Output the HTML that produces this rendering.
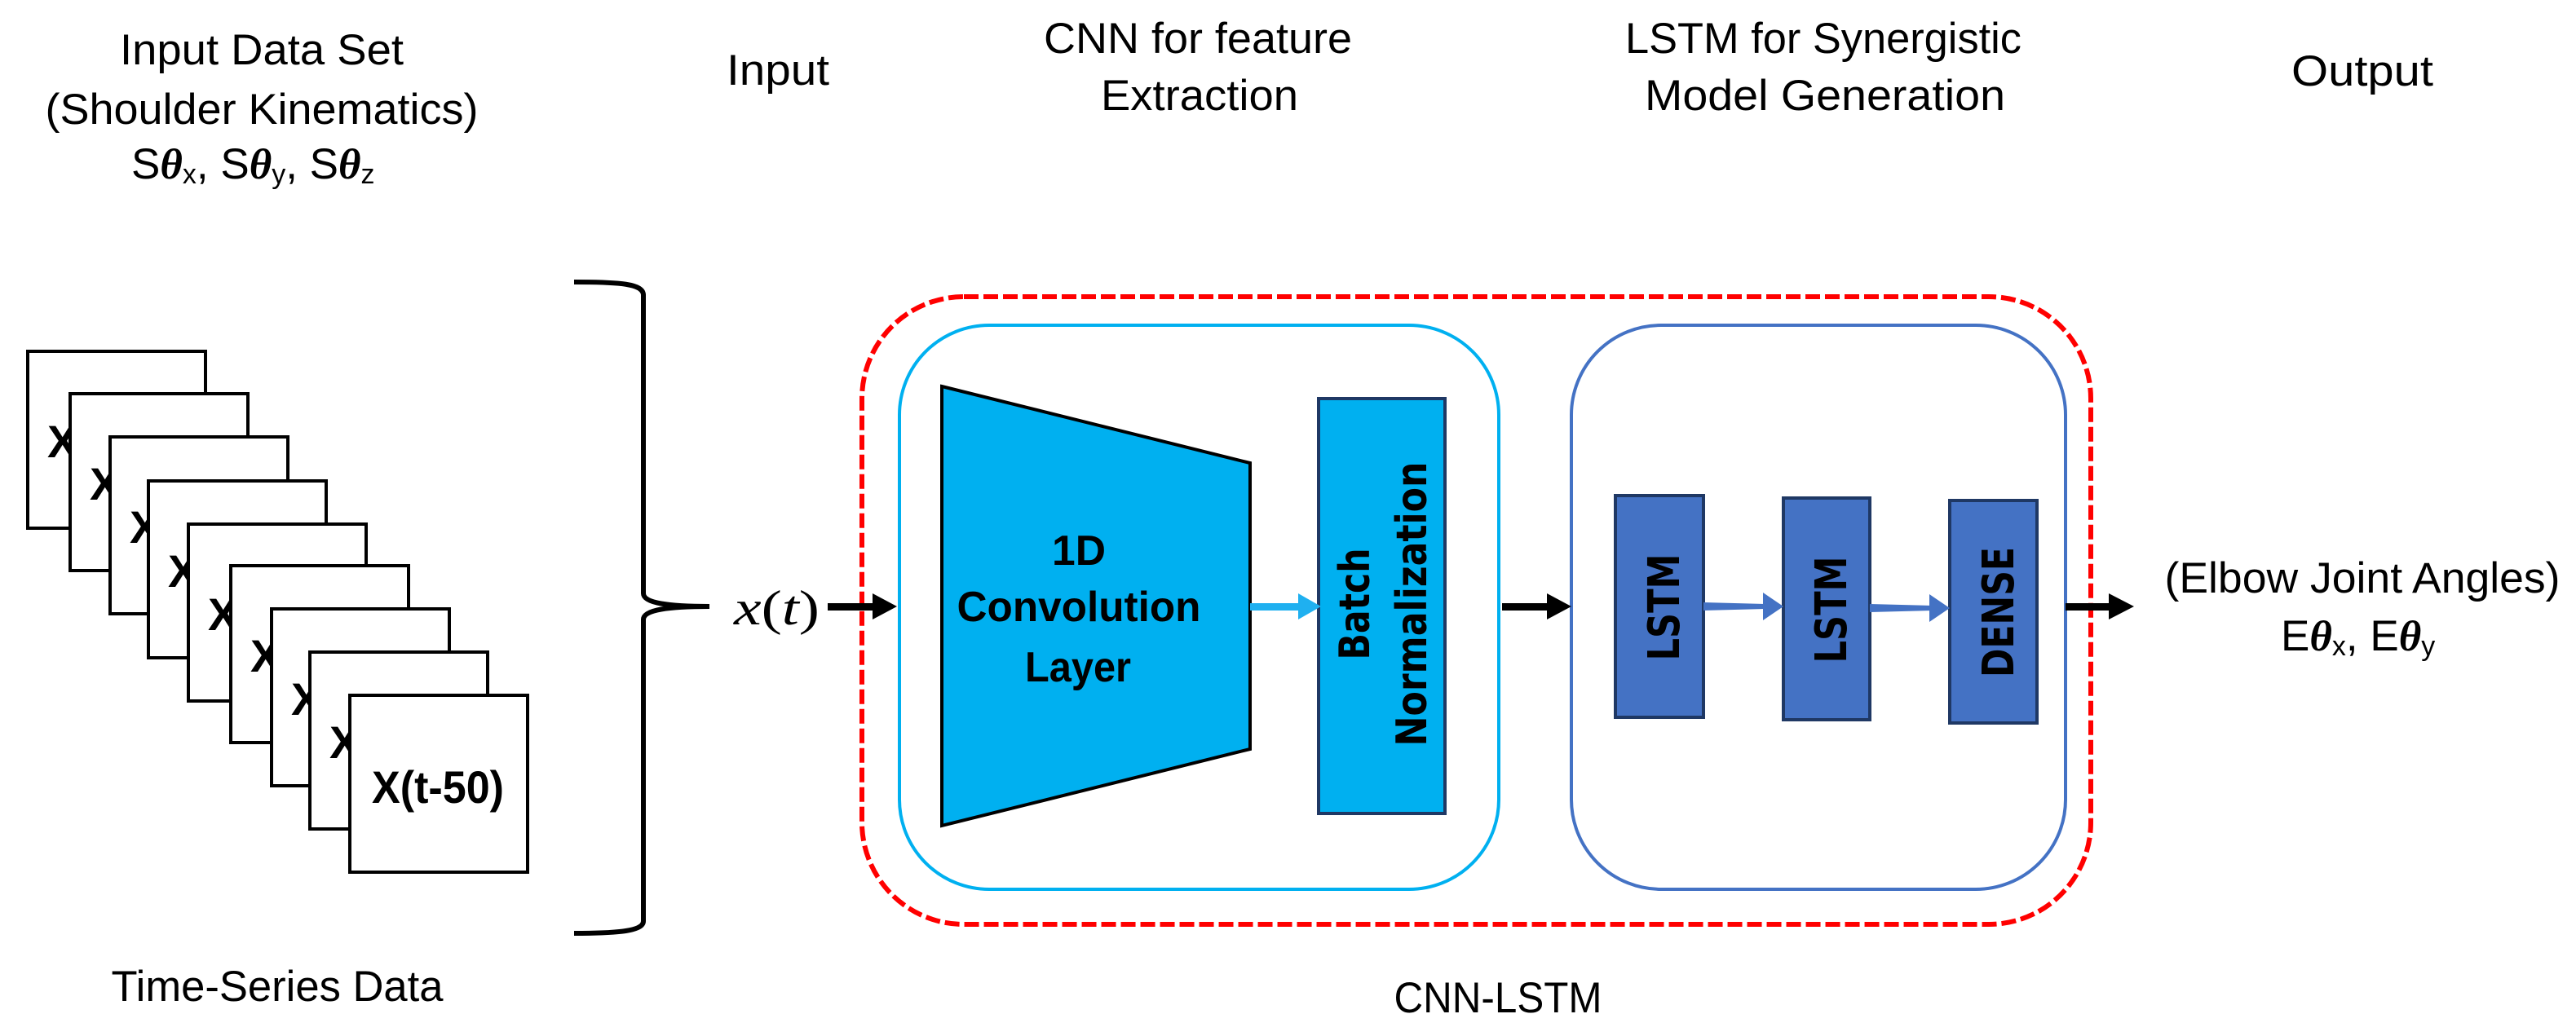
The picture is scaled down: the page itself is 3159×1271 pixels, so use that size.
<!DOCTYPE html>
<html><head><meta charset="utf-8"><style>
html,body{margin:0;padding:0;background:#fff;}
svg{display:block;}
</style></head><body>
<svg width="3159" height="1271" viewBox="0 0 3159 1271" xmlns="http://www.w3.org/2000/svg" style="font-family:'Liberation Sans',sans-serif">
<!-- Titles -->
<g font-size="53" fill="#000" text-anchor="middle">
<text x="321" y="79" textLength="348" lengthAdjust="spacingAndGlyphs">Input Data Set</text>
<text x="321" y="152" textLength="531" lengthAdjust="spacingAndGlyphs">(Shoulder Kinematics)</text>
<text x="954" y="104" textLength="126" lengthAdjust="spacingAndGlyphs">Input</text>
<text x="1469" y="65" textLength="378" lengthAdjust="spacingAndGlyphs">CNN for feature</text>
<text x="1471" y="135" textLength="242" lengthAdjust="spacingAndGlyphs">Extraction</text>
<text x="2236" y="65" textLength="486" lengthAdjust="spacingAndGlyphs">LSTM for Synergistic</text>
<text x="2238" y="135" textLength="442" lengthAdjust="spacingAndGlyphs">Model Generation</text>
<text x="2897" y="105" textLength="174" lengthAdjust="spacingAndGlyphs">Output</text>
<text x="340" y="1228" textLength="407" lengthAdjust="spacingAndGlyphs">Time-Series Data</text>
<text x="1837" y="1242" textLength="255" lengthAdjust="spacingAndGlyphs">CNN-LSTM</text>
<text x="2897" y="727" textLength="485" lengthAdjust="spacingAndGlyphs">(Elbow Joint Angles)</text>
</g>
<text x="161" y="219" font-size="53">S<tspan style="font-family:'Liberation Serif',serif;font-weight:bold;font-style:italic">θ</tspan><tspan font-size="34" dy="6">x</tspan><tspan dy="-6">, S</tspan><tspan style="font-family:'Liberation Serif',serif;font-weight:bold;font-style:italic">θ</tspan><tspan font-size="34" dy="6">y</tspan><tspan dy="-6">, S</tspan><tspan style="font-family:'Liberation Serif',serif;font-weight:bold;font-style:italic">θ</tspan><tspan font-size="34" dy="6">z</tspan></text>
<text x="2797" y="798" font-size="53">E<tspan style="font-family:'Liberation Serif',serif;font-weight:bold;font-style:italic">θ</tspan><tspan font-size="34" dy="6">x</tspan><tspan dy="-6">, E</tspan><tspan style="font-family:'Liberation Serif',serif;font-weight:bold;font-style:italic">θ</tspan><tspan font-size="34" dy="6">y</tspan></text>

<!-- frames -->
<g stroke="#000" stroke-width="4" fill="#fff" font-weight="bold" font-size="56">
<rect x="34" y="431" width="218" height="217"/><text x="58" y="561" stroke="none" fill="#000">X(t)</text>
<rect x="86" y="483" width="218" height="217"/><text x="110" y="613" stroke="none" fill="#000">X(t-1)</text>
<rect x="135" y="536" width="218" height="217"/><text x="159" y="666" stroke="none" fill="#000">X(t-2)</text>
<rect x="182" y="590" width="218" height="217"/><text x="206" y="720" stroke="none" fill="#000">X(t-3)</text>
<rect x="231" y="643" width="218" height="217"/><text x="255" y="773" stroke="none" fill="#000">X(t-4)</text>
<rect x="283" y="694" width="218" height="217"/><text x="307" y="824" stroke="none" fill="#000">X(t-5)</text>
<rect x="333" y="747" width="218" height="217"/><text x="357" y="877" stroke="none" fill="#000">X(t-6)</text>
<rect x="380" y="800" width="218" height="217"/><text x="404" y="930" stroke="none" fill="#000">X(t-7)</text>
<rect x="429" y="853" width="218" height="217"/><text x="456" y="985" stroke="none" fill="#000" textLength="162" lengthAdjust="spacingAndGlyphs">X(t-50)</text>
</g>

<!-- brace -->
<path d="M704,346 C760,346 789,348 789,362 L789,728 C789,740 820,744 870,744 C820,744 789,748 789,760 L789,1130 C789,1142 760,1145 704,1145" fill="none" stroke="#000" stroke-width="6"/>

<text x="900" y="766" font-size="60" textLength="105" lengthAdjust="spacingAndGlyphs" style="font-family:'Liberation Serif',serif"><tspan style="font-style:italic">x</tspan>(<tspan style="font-style:italic">t</tspan>)</text>

<!-- red dashed -->
<rect x="1057" y="364" width="1507" height="770" rx="125" ry="125" fill="none" stroke="#FF0000" stroke-width="6" stroke-dasharray="18 6"/>
<rect x="1103" y="399" width="735" height="692" rx="110" ry="110" fill="none" stroke="#00B0F0" stroke-width="4"/>
<rect x="1927" y="399" width="606" height="692" rx="110" ry="110" fill="none" stroke="#4472C4" stroke-width="4"/>

<!-- trapezoid -->
<polygon points="1155,474 1533,568 1533,919 1155,1013" fill="#00B0F0" stroke="#000" stroke-width="4"/>
<g style="font-family:'Liberation Sans Narrow','Liberation Sans',sans-serif;font-weight:bold" font-size="52" text-anchor="middle">
<text x="1323" y="693" textLength="66" lengthAdjust="spacingAndGlyphs">1D</text>
<text x="1323" y="762" textLength="299" lengthAdjust="spacingAndGlyphs">Convolution</text>
<text x="1322" y="836" textLength="130" lengthAdjust="spacingAndGlyphs">Layer</text>
</g>
<!-- BN -->
<rect x="1617" y="489" width="155" height="509" fill="#00B0F0" stroke="#1F3864" stroke-width="4"/>
<g style="font-family:'DejaVu Sans',sans-serif;font-weight:bold" font-size="40" text-anchor="middle">
<text transform="translate(1679,741) rotate(-90) scale(1,1.3)" textLength="137" lengthAdjust="spacingAndGlyphs">Batch</text>
<text transform="translate(1749,741) rotate(-90) scale(1,1.3)" textLength="349" lengthAdjust="spacingAndGlyphs">Normalization</text>
</g>

<!-- LSTM boxes -->
<rect x="1981" y="608" width="108" height="272" fill="#4472C4" stroke="#1F3864" stroke-width="4"/>
<rect x="2187" y="611" width="106" height="272" fill="#4472C4" stroke="#1F3864" stroke-width="4"/>
<rect x="2391" y="614" width="107" height="273" fill="#4472C4" stroke="#1F3864" stroke-width="4"/>
<g style="font-family:'DejaVu Sans',sans-serif;font-weight:bold" font-size="41" text-anchor="middle">
<text transform="translate(2059,745) rotate(-90) scale(1,1.3)" textLength="131" lengthAdjust="spacingAndGlyphs">LSTM</text>
<text transform="translate(2264,748) rotate(-90) scale(1,1.3)" textLength="131" lengthAdjust="spacingAndGlyphs">LSTM</text>
<text transform="translate(2469,751) rotate(-90) scale(1,1.3)" textLength="160" lengthAdjust="spacingAndGlyphs">DENSE</text>
</g>

<!-- arrows -->
<g fill="#000">
<rect x="1015" y="740" width="58" height="9"/><polygon points="1070,728 1100,744 1070,760"/>
<rect x="1842" y="740" width="58" height="9"/><polygon points="1897,728 1927,744 1897,760"/>
<rect x="2533" y="740" width="55" height="9"/><polygon points="2586,728 2617,744 2586,760"/>
</g>
<rect x="1533" y="740" width="62" height="9" fill="#1FB0F0"/><polygon points="1592,728 1620,744 1592,760" fill="#1FB0F0"/>
<g fill="#4472C4">
<polygon points="2089,739 2165,741 2165,747 2089,749"/><polygon points="2162,727 2187,744 2162,761"/>
<polygon points="2293,741 2370,743 2370,749 2293,751"/><polygon points="2366,729 2391,746 2366,763"/>
</g>
</svg>
</body></html>
